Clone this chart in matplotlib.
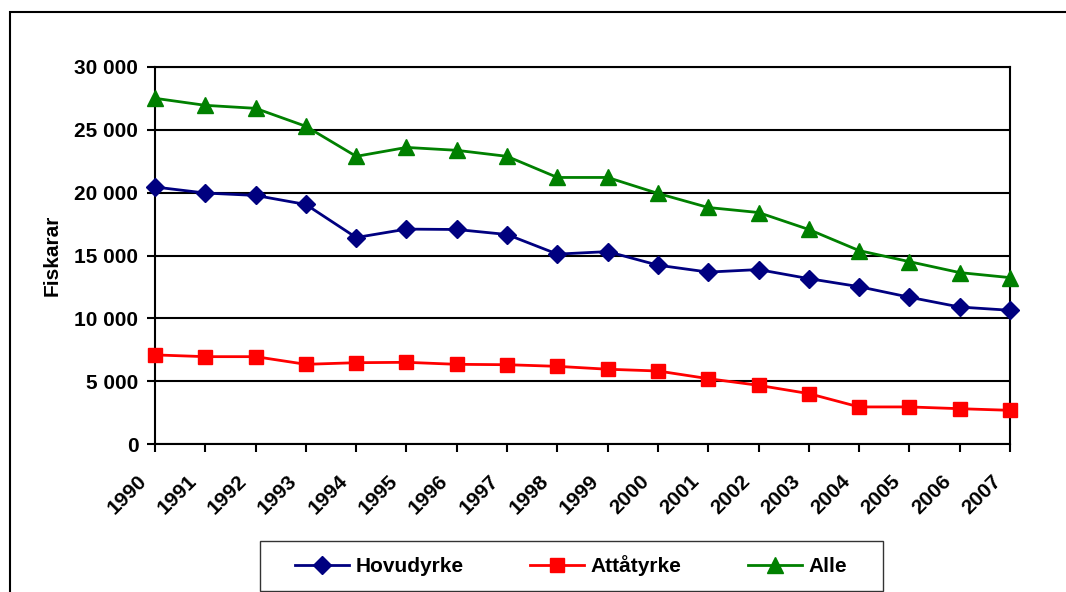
import matplotlib
matplotlib.use('Agg')
import matplotlib.pyplot as plt
from matplotlib.patches import Rectangle
from matplotlib.ticker import FuncFormatter, MultipleLocator
from matplotlib.transforms import ScaledTranslation

# ── Data ───────────────────────────────────────────────────────────────────────
years = [str(y) for y in range(1990, 2008)]
hovudyrke = [20450, 19970, 19780, 19060, 16430, 17100, 17070, 16670, 15110,
             15310, 14230, 13680, 13880, 13160, 12520, 11680, 10900, 10640]
attatyrke = [7090, 6950, 6950, 6340, 6470, 6500, 6340, 6310, 6180,
             5950, 5810, 5200, 4670, 4010, 2950, 2950, 2810, 2680]
alle = [27510, 26950, 26710, 25280, 22890, 23600, 23370, 22890, 21210,
        21210, 19940, 18820, 18420, 17070, 15390, 14510, 13640, 13240]

plt.rcParams['font.family'] = ['Liberation Sans', 'DejaVu Sans']
plt.rcParams['font.weight'] = 'bold'
FS = 15

fig = plt.figure(figsize=(10.66, 5.92), dpi=100)
ax = fig.add_axes([155 / 1066, 1 - 444 / 592, 855 / 1066, 377 / 592])

x = list(range(len(years)))
ax.plot(x, hovudyrke, color='#000080', lw=2, marker='D', ms=9,
        label='Hovudyrke', clip_on=False, zorder=5)
ax.plot(x, attatyrke, color='#FF0000', lw=2, marker='s', ms=10,
        label='Attåtyrke', clip_on=False, zorder=5)
ax.plot(x, alle, color='#008000', lw=2, marker='^', ms=11,
        label='Alle', clip_on=False, zorder=5)

ax.set_xlim(0, len(years) - 1)
ax.set_ylim(0, 30000)
ax.yaxis.set_major_locator(MultipleLocator(5000))
ax.yaxis.set_major_formatter(FuncFormatter(lambda v, p: f'{int(v):,}'.replace(',', ' ')))
ax.grid(axis='y', color='black', lw=1.5)
ax.set_axisbelow(True)
for s in ax.spines.values():
    s.set_linewidth(1.5)

ax.set_xticks(x)
ax.set_xticklabels(years, rotation=45, ha='right', va='top')
ax.tick_params(axis='both', labelsize=FS, width=1.5, length=6)
ax.tick_params(axis='x', pad=14)
ax.tick_params(axis='y', pad=6)
shift = ScaledTranslation(-5 / 100, 0, fig.dpi_scale_trans)
for lab in ax.get_xticklabels():
    lab.set_transform(lab.get_transform() + shift)

ax.set_ylabel('Fiskarar', fontsize=FS, fontweight='bold', labelpad=9)

# legend with separate frame
fig.add_artist(Rectangle((260 / 1066, 1 - 591 / 592), 623 / 1066, 50 / 592,
                         transform=fig.transFigure, fill=False, lw=1, ec='#333333'))
fig.legend(loc='center', bbox_to_anchor=(571 / 1066, 1 - 566 / 592), ncol=3,
           frameon=False, fontsize=FS, handlelength=2.6, handletextpad=0.3,
           columnspacing=3.2)

# outer chart frame
fig.add_artist(Rectangle((9.5 / 1066, -0.1), 2, 1.1 - 12 / 592,
                         transform=fig.transFigure, fill=False, lw=1.5, ec='black'))

fig.savefig('out.png', dpi=100)
